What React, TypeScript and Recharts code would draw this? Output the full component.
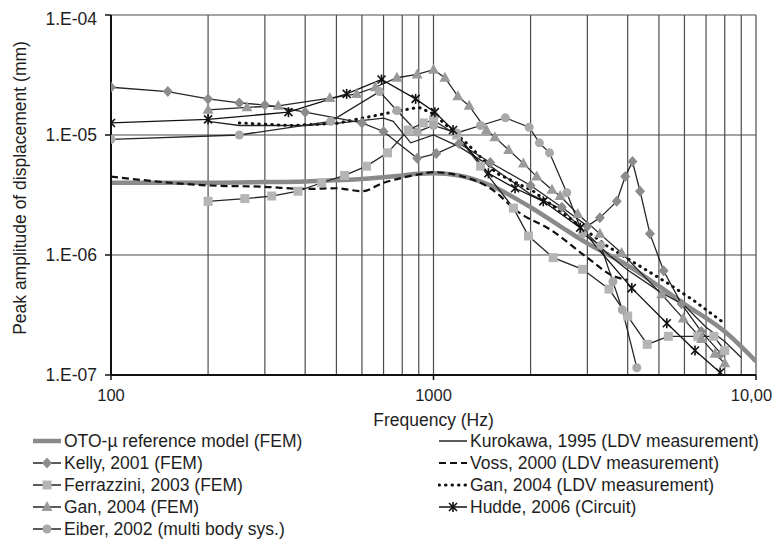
import React from 'react'
import { LineChart, Line, XAxis, YAxis, ReferenceLine } from 'recharts'

// axis ticks and grid
const xTicks = [100, 1000, 10000]
const xTickLabels = ['100', '1000', '10,000']
const yTicks = [1e-7, 1e-6, 1e-5, 1e-4]
const yTickLabels = ['1.E-07', '1.E-06', '1.E-05', '1.E-04']
const xGrid = [200, 300, 400, 500, 600, 700, 800, 900, 1000, 2000, 3000, 4000, 5000, 6000, 7000, 8000, 9000, 10000]
const yGrid = [1e-6, 1e-5, 1e-4]

// OTO-µ reference model (FEM)
const otoFreq = [100, 200, 300, 400, 500, 600, 700, 800, 900, 1000, 1200, 1500, 2000, 2500, 3000, 4000, 5000, 6000, 8000, 10000]
const otoAmp = [4.0e-6, 4.0e-6, 4.05e-6, 4.1e-6, 4.2e-6, 4.3e-6, 4.45e-6, 4.6e-6, 4.75e-6, 4.8e-6, 4.6e-6, 3.8e-6, 2.5e-6, 1.7e-6, 1.25e-6, 8.2e-7, 5.5e-7, 3.9e-7, 2.3e-7, 1.3e-7]

// Kelly, 2001 (FEM)
const kellyFreq = [100, 150, 200, 250, 300, 400, 600, 700, 890, 1020, 1200, 1500, 2000, 2500, 3000, 3280, 3700, 3930, 4140, 4370, 4690, 5170, 5880, 6770, 7800]
const kellyAmp = [2.5e-5, 2.3e-5, 2.0e-5, 1.85e-5, 1.78e-5, 1.55e-5, 1.26e-5, 1.07e-5, 6.4e-6, 7.0e-6, 8.5e-6, 5.9e-6, 3.8e-6, 2.5e-6, 1.74e-6, 2.04e-6, 2.8e-6, 4.5e-6, 6.0e-6, 3.4e-6, 1.5e-6, 7.4e-7, 3.9e-7, 2.3e-7, 1.5e-7]

// Ferrazzini, 2003 (FEM)
const ferrFreq = [200, 260, 315, 380, 450, 530, 620, 720, 835, 930, 1000, 1180, 1400, 1770, 1970, 2350, 2900, 3500, 4000, 4600, 5350, 6600, 7400, 8000]
const ferrAmp = [2.8e-6, 2.95e-6, 3.1e-6, 3.4e-6, 4.0e-6, 4.6e-6, 5.5e-6, 7.1e-6, 1.1e-5, 1.26e-5, 1.33e-5, 1.0e-5, 5.5e-6, 2.46e-6, 1.44e-6, 9.5e-7, 7.6e-7, 5.2e-7, 3.1e-7, 1.8e-7, 2.1e-7, 2.1e-7, 2.1e-7, 1.6e-7]

// Gan, 2004 (FEM)
const ganFemFreq = [200, 264, 330, 477, 578, 660, 770, 890, 1000, 1085, 1190, 1290, 1460, 1550, 1710, 1900, 2090, 2330, 2470, 2800, 3280, 3830, 5100, 5950, 6780, 7460, 8000]
const ganFemAmp = [1.62e-5, 1.7e-5, 1.75e-5, 2.03e-5, 2.2e-5, 2.5e-5, 3.0e-5, 3.2e-5, 3.5e-5, 3.0e-5, 2.1e-5, 1.75e-5, 1.1e-5, 9.6e-6, 7.5e-6, 5.8e-6, 4.5e-6, 3.5e-6, 3.1e-6, 2.2e-6, 1.5e-6, 1.04e-6, 4.7e-7, 2.95e-7, 2.0e-7, 1.5e-7, 1.25e-7]

// Eiber, 2002 (multi body sys.)
const eiberFreq = [100, 250, 480, 680, 770, 890, 1000, 1180, 1400, 1670, 1980, 2130, 2290, 2590, 2900, 3300, 3600, 3850, 4270]
const eiberAmp = [9.2e-6, 1.0e-5, 1.3e-5, 2.3e-5, 1.6e-5, 1.06e-5, 1.2e-5, 1.04e-5, 1.2e-5, 1.39e-5, 1.16e-5, 8.6e-6, 7.1e-6, 3.3e-6, 1.5e-6, 1.2e-6, 6.0e-7, 3.5e-7, 1.15e-7]

// Kurokawa, 1995 (LDV measurement)
const kuroFreq = [200, 250, 300, 400, 500, 700, 750, 850, 1000, 1200, 1500, 2000, 2500, 3000, 3500, 4000, 5000, 6000, 7000, 8000, 9000]
const kuroAmp = [1.3e-5, 1.2e-5, 1.2e-5, 1.2e-5, 1.25e-5, 1.38e-5, 1.3e-5, 8.6e-6, 1.0e-5, 8.0e-6, 5.5e-6, 3.2e-6, 2.4e-6, 1.5e-6, 1.0e-6, 7.5e-7, 5.0e-7, 3.8e-7, 2.5e-7, 1.9e-7, 1.4e-7]

// Voss, 2000 (LDV measurement)
const vossFreq = [100, 200, 300, 400, 500, 600, 700, 800, 900, 1000, 1200, 1500, 1850, 2300, 3000, 3600, 4000]
const vossAmp = [4.5e-6, 3.8e-6, 3.7e-6, 3.55e-6, 3.6e-6, 3.4e-6, 4.0e-6, 4.4e-6, 4.7e-6, 4.9e-6, 4.6e-6, 3.6e-6, 2.24e-6, 1.63e-6, 9.5e-7, 6.7e-7, 6.2e-7]

// Gan, 2004 (LDV measurement)
const ganLdvFreq = [250, 360, 500, 790, 900, 1000, 1270, 1570, 2040, 2850, 3450, 4170, 5280, 6390, 7830]
const ganLdvAmp = [1.26e-5, 1.2e-5, 1.25e-5, 1.6e-5, 1.7e-5, 1.5e-5, 8.5e-6, 4.8e-6, 3.4e-6, 1.74e-6, 1.19e-6, 8.7e-7, 5.9e-7, 4.2e-7, 2.8e-7]

// Hudde, 2006 (Circuit)
const huddeFreq = [100, 200, 355, 538, 690, 880, 1010, 1150, 1480, 1790, 2190, 2850, 4120, 5290, 6470, 7740]
const huddeAmp = [1.26e-5, 1.35e-5, 1.55e-5, 2.2e-5, 2.9e-5, 2.0e-5, 1.55e-5, 1.1e-5, 4.8e-6, 3.6e-6, 2.8e-6, 1.69e-6, 5.3e-7, 2.7e-7, 1.6e-7, 1.05e-7]

const toPoints = (f: number[], v: number[]) => f.map((x, i) => ({ f: x, v: v[i] }))

const FONT = '"Liberation Sans", Arial, sans-serif'
const TEXT = '#1e1e1e'
const LINE = '#262626'

type Marker = 'diamond' | 'square' | 'triangle' | 'circle' | 'star' | null

const markerShape = (kind: Marker, cx: number, cy: number, fill: string, key?: any) => {
  if (kind === 'diamond') {
    return <path key={key} d={`M${cx},${cy - 5.5}L${cx + 5},${cy}L${cx},${cy + 5.5}L${cx - 5},${cy}Z`} fill={fill} />
  }
  if (kind === 'square') {
    return <rect key={key} x={cx - 4.5} y={cy - 4.5} width={9} height={9} fill={fill} />
  }
  if (kind === 'triangle') {
    return <path key={key} d={`M${cx},${cy - 6}L${cx + 5.5},${cy + 4}L${cx - 5.5},${cy + 4}Z`} fill={fill} />
  }
  if (kind === 'circle') {
    return <circle key={key} cx={cx} cy={cy} r={4.5} fill={fill} />
  }
  if (kind === 'star') {
    return (
      <g key={key} stroke="#111" strokeWidth={1.6}>
        <line x1={cx - 4} y1={cy - 4} x2={cx + 4} y2={cy + 4} />
        <line x1={cx - 4} y1={cy + 4} x2={cx + 4} y2={cy - 4} />
        <line x1={cx} y1={cy - 5} x2={cx} y2={cy + 5} />
      </g>
    )
  }
  return null
}

const makeDot = (kind: Marker, fill: string) => (props: any) => {
  const { cx, cy, index } = props
  if (cx == null || cy == null) return <g key={index} />
  return markerShape(kind, cx, cy, fill, index)
}

type Series = {
  name: string
  data: { f: number, v: number }[]
  stroke: string
  width: number
  dash?: string
  cap?: 'round' | 'butt'
  marker: Marker
  markerFill: string
  curve: 'linear' | 'monotone'
}

const leftSeries: Series[] = [
  { name: 'OTO-µ reference model (FEM)', data: toPoints(otoFreq, otoAmp), stroke: '#8a8a8a', width: 4.5, marker: null, markerFill: '', curve: 'monotone' },
  { name: 'Kelly, 2001 (FEM)', data: toPoints(kellyFreq, kellyAmp), stroke: LINE, width: 1.3, marker: 'diamond', markerFill: '#8c8c8c', curve: 'linear' },
  { name: 'Ferrazzini, 2003 (FEM)', data: toPoints(ferrFreq, ferrAmp), stroke: LINE, width: 1.3, marker: 'square', markerFill: '#b5b5b5', curve: 'linear' },
  { name: 'Gan, 2004 (FEM)', data: toPoints(ganFemFreq, ganFemAmp), stroke: LINE, width: 1.3, marker: 'triangle', markerFill: '#9a9a9a', curve: 'linear' },
  { name: 'Eiber, 2002 (multi body sys.)', data: toPoints(eiberFreq, eiberAmp), stroke: LINE, width: 1.3, marker: 'circle', markerFill: '#a9a9a9', curve: 'linear' },
]

const rightSeries: Series[] = [
  { name: 'Kurokawa, 1995 (LDV measurement)', data: toPoints(kuroFreq, kuroAmp), stroke: LINE, width: 1.3, marker: null, markerFill: '', curve: 'linear' },
  { name: 'Voss, 2000 (LDV measurement)', data: toPoints(vossFreq, vossAmp), stroke: '#111', width: 2.2, dash: '7 4', marker: null, markerFill: '', curve: 'monotone' },
  { name: 'Gan, 2004 (LDV measurement)', data: toPoints(ganLdvFreq, ganLdvAmp), stroke: '#111', width: 3, dash: '0.5 6', cap: 'round', marker: null, markerFill: '', curve: 'linear' },
  { name: 'Hudde, 2006 (Circuit)', data: toPoints(huddeFreq, huddeAmp), stroke: '#111', width: 1.3, marker: 'star', markerFill: '#111', curve: 'linear' },
]

const allSeries = [...leftSeries, ...rightSeries]
// draw order: reference curve under the rest
const drawOrder = [allSeries[0], allSeries[5], allSeries[6], allSeries[7], allSeries[1], allSeries[2], allSeries[3], allSeries[4], allSeries[8]]

const tickLabel = (labels: string[], ticks: number[]) => (val: number) => {
  const i = ticks.findIndex(t => Math.abs(t - val) / t < 1e-6)
  return i >= 0 ? labels[i] : ''
}

const YTitle = () => {
  const cx = 12
  const cy = 180
  return (
    <text x={cx} y={cy} transform={`rotate(-90 ${cx} ${cy})`} textAnchor="middle" dominantBaseline="central"
      fill={TEXT} fontSize={17.5} fontFamily={FONT}>
      Peak amplitude of displacement (mm)
    </text>
  )
}

const LegendIcon = ({ s }: { s: Series }) => (
  <svg width={30} height={14} style={{ display: 'block' }}>
    <line x1={1} y1={7} x2={29} y2={7} stroke={s.stroke} strokeWidth={s.width === 1.3 ? 1.5 : s.width}
      strokeDasharray={s.dash} strokeLinecap={s.cap || 'butt'} />
    {markerShape(s.marker, 15, 7, s.markerFill)}
  </svg>
)

const LegendBlock = ({ items, left }: { items: Series[], left: number }) => (
  <>
    {items.map((s, i) => (
      <div key={s.name} style={{ position: 'absolute', left, top: 441 - 8 + i * 22 - 9, height: 18, display: 'flex', alignItems: 'center' }}>
        <LegendIcon s={s} />
        <span style={{ marginLeft: 2, fontFamily: FONT, fontSize: 17.5, color: TEXT, whiteSpace: 'nowrap', lineHeight: '18px' }}>{s.name}</span>
      </div>
    ))}
  </>
)

const App = () => {
  return (
    <div style={{ position: 'relative', width: 772, height: 544 }}>
      <LineChart width={772} height={544} margin={{ top: 7, right: 24, bottom: 117, left: 0 }}>
        {xGrid.map(x => (
          <ReferenceLine key={`gx${x}`} x={x} stroke="#4d4d4d" strokeWidth={1.2} />
        ))}
        {yGrid.map(y => (
          <ReferenceLine key={`gy${y}`} y={y} stroke="#4d4d4d" strokeWidth={1.2} />
        ))}
        <XAxis
          dataKey="f"
          type="number"
          scale="log"
          domain={[100, 10000]}
          ticks={xTicks}
          tickFormatter={tickLabel(xTickLabels, xTicks)}
          allowDataOverflow
          height={60}
          tickSize={5}
          tickMargin={9}
          axisLine={{ stroke: '#111', strokeWidth: 2 }}
          tickLine={{ stroke: '#111', strokeWidth: 1.5 }}
          tick={{ fill: TEXT, fontSize: 16.5, fontFamily: FONT }}
          label={{ value: 'Frequency (Hz)', position: 'insideBottom', offset: 9, fill: TEXT, fontSize: 17.5, fontFamily: FONT }}
        />
        <YAxis
          dataKey="v"
          type="number"
          scale="log"
          domain={[1e-7, 1e-4]}
          ticks={yTicks}
          tickFormatter={tickLabel(yTickLabels, yTicks)}
          allowDataOverflow
          width={103}
          tickSize={6}
          tickMargin={8}
          axisLine={{ stroke: '#111', strokeWidth: 2 }}
          tickLine={{ stroke: '#111', strokeWidth: 1.5 }}
          tick={{ fill: TEXT, fontSize: 17.5, fontFamily: FONT }}
          label={<YTitle />}
        />
        {drawOrder.map(s => (
          <Line
            key={s.name}
            data={s.data}
            dataKey="v"
            name={s.name}
            type={s.curve}
            stroke={s.stroke}
            strokeWidth={s.width}
            strokeDasharray={s.dash}
            strokeLinecap={s.cap || 'butt'}
            dot={s.marker ? makeDot(s.marker, s.markerFill) : false}
            activeDot={false}
            isAnimationActive={false}
          />
        ))}
      </LineChart>
      <LegendBlock items={leftSeries} left={24} />
      <LegendBlock items={rightSeries} left={430} />
    </div>
  )
}

export default App
